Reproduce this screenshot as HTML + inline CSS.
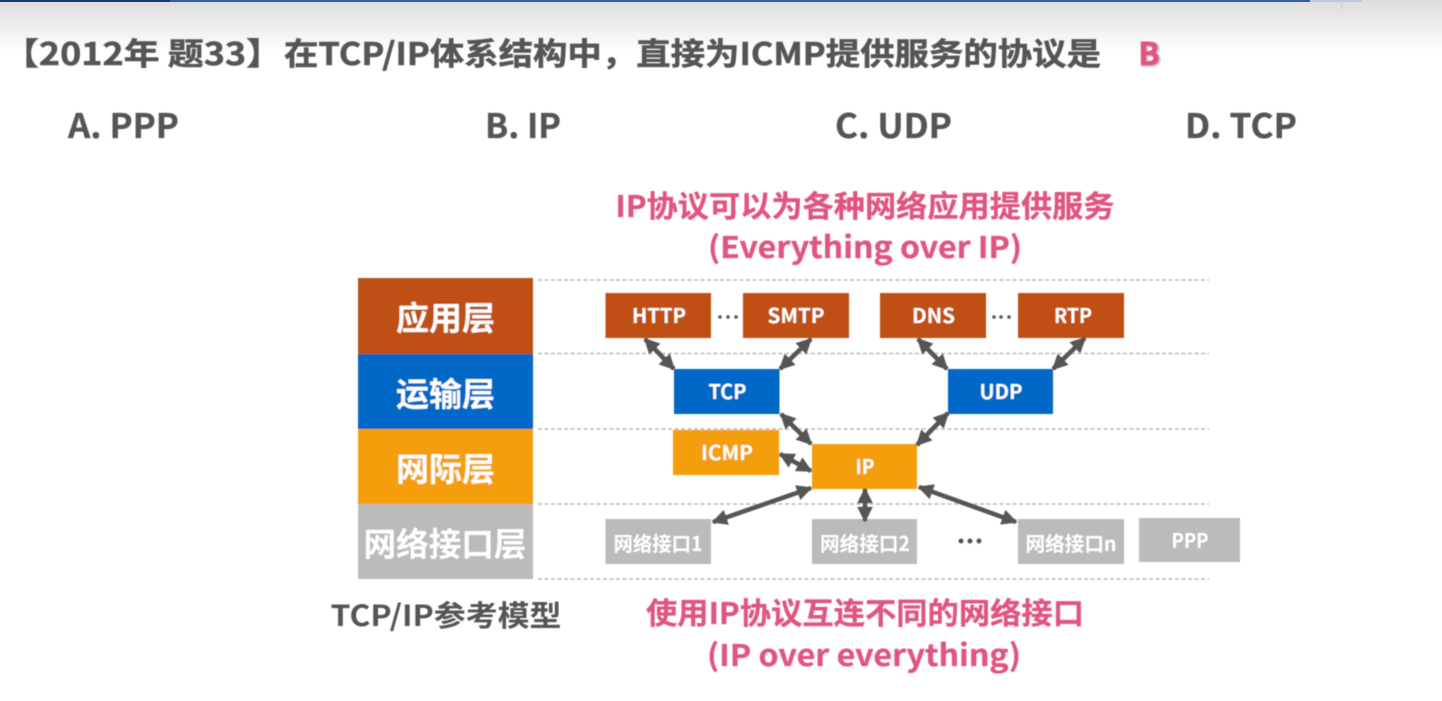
<!DOCTYPE html>
<html lang="zh"><head><meta charset="utf-8"><title>TCP/IP</title>
<style>
html,body{margin:0;padding:0;background:#fff;width:1442px;height:701px;overflow:hidden}
svg{display:block}
text{font-family:"Noto Sans CJK SC","Liberation Sans",sans-serif;font-weight:700}
.w{fill:#fff;text-anchor:middle}
.p{fill:#e0557f;text-anchor:middle;font-size:30px;stroke:#e0557f;stroke-width:.3}
.h{fill:#555;font-size:31px;stroke:#555;stroke-width:.5}
.o{fill:#555;font-size:34px;stroke:#555;stroke-width:.3}
.dash{stroke:#aaa;stroke-width:1.2;stroke-dasharray:4 2.5}
.ar{stroke:#555;stroke-width:4.6;fill:#555}
</style></head><body>
<svg width="1442" height="701" viewBox="0 0 1442 701" xmlns="http://www.w3.org/2000/svg">
<defs>
<linearGradient id="g" x1="0" y1="0" x2="0" y2="1"><stop offset="0" stop-color="#dcdcdc"/><stop offset="1" stop-color="#fff"/></linearGradient>
<marker id="a" viewBox="0 0 10 10" refX="9" refY="5" markerWidth="3.8" markerHeight="3.4" orient="auto-start-reverse"><path d="M0 0L10 5L0 10z" fill="#555"/></marker>
<filter id="b" x="-5%" y="-5%" width="110%" height="110%"><feGaussianBlur stdDeviation="0.55"/></filter>
</defs>
<rect x="0" y="0" width="1442" height="52" fill="url(#g)"/>
<rect x="0" y="0" width="1310" height="2" fill="#2f5fa8"/>
<rect x="0" y="0" width="170" height="2" fill="#123a6b"/>
<rect x="1310" y="0" width="52" height="2" fill="#b9c8da"/>
<rect x="1341" y="0" width="1" height="10" fill="#d0d0d0"/>
<g filter="url(#b)">
<text class="h" x="3" y="65" textLength="279" lengthAdjust="spacingAndGlyphs">【2012年 题33】</text>
<text class="h" x="284" y="65" textLength="817" lengthAdjust="spacingAndGlyphs">在TCP/IP体系结构中，直接为ICMP提供服务的协议是</text>
<text x="1150.500" y="66" text-anchor="middle" font-size="31" fill="#cfcfcf" stroke="#cfcfcf" stroke-width="2">B</text>
<text x="1149" y="65" text-anchor="middle" font-size="31" fill="#e0557f" stroke="#e0557f" stroke-width="1">B</text>
<text class="o" x="68" y="138" textLength="111" lengthAdjust="spacingAndGlyphs">A. PPP</text>
<text class="o" x="485" y="138" textLength="76" lengthAdjust="spacingAndGlyphs">B. IP</text>
<text class="o" x="835" y="138" textLength="117" lengthAdjust="spacingAndGlyphs">C. UDP</text>
<text class="o" x="1185" y="138" textLength="112" lengthAdjust="spacingAndGlyphs">D. TCP</text>
<text class="p" x="865" y="217" textLength="499" lengthAdjust="spacingAndGlyphs">IP协议可以为各种网络应用提供服务</text>
<text class="p" x="865" y="258" textLength="314" lengthAdjust="spacingAndGlyphs">(Everything over IP)</text>
<g class="dash">
<line x1="538" y1="280" x2="1209" y2="280"/><line x1="538" y1="353.5" x2="1209" y2="353.5"/><line x1="538" y1="429" x2="1209" y2="429"/><line x1="538" y1="504" x2="1209" y2="504"/><line x1="538" y1="579" x2="1209" y2="579"/>
</g>
<rect x="358" y="278" width="175" height="76" fill="#c05012"/>
<rect x="358" y="354" width="175" height="75" fill="#0468c6"/>
<rect x="358" y="429" width="175" height="75" fill="#f59e0f"/>
<rect x="358" y="504" width="175" height="75" fill="#bbb"/>
<g font-size="33">
<text class="w" x="445.500" y="330">应用层</text>
<text class="w" x="445.500" y="406">运输层</text>
<text class="w" x="445.500" y="481">网际层</text>
<text class="w" x="445" y="556" textLength="163" lengthAdjust="spacingAndGlyphs">网络接口层</text>
</g>
<g fill="#c05012">
<rect x="605.500" y="293" width="105.500" height="45"/><rect x="743" y="293" width="106" height="45"/><rect x="880" y="293" width="106" height="45"/><rect x="1018" y="293" width="106" height="45"/>
</g>
<g fill="#0468c6"><rect x="674" y="369" width="105.500" height="45"/><rect x="948" y="369" width="105" height="45"/></g>
<g fill="#f59e0f"><rect x="673" y="430" width="106" height="45"/><rect x="812" y="444" width="105" height="45"/></g>
<g fill="#bbb"><rect x="605.500" y="519" width="105.500" height="45"/><rect x="812" y="519" width="105" height="45"/><rect x="1018" y="519" width="106" height="45"/><rect x="1139" y="518" width="101" height="44"/></g>
<g font-size="20">
<text class="w" x="659" y="323" textLength="54" lengthAdjust="spacingAndGlyphs">HTTP</text><text class="w" x="796" y="323" textLength="57" lengthAdjust="spacingAndGlyphs">SMTP</text><text class="w" x="933.500" y="323" textLength="43" lengthAdjust="spacingAndGlyphs">DNS</text><text class="w" x="1073" y="323" textLength="38" lengthAdjust="spacingAndGlyphs">RTP</text>
<text class="w" x="727.500" y="399" textLength="38" lengthAdjust="spacingAndGlyphs">TCP</text><text class="w" x="1001" y="399" textLength="43" lengthAdjust="spacingAndGlyphs">UDP</text>
<text class="w" x="727" y="460" textLength="52" lengthAdjust="spacingAndGlyphs">ICMP</text><text class="w" x="865" y="474" textLength="19" lengthAdjust="spacingAndGlyphs">IP</text>
<text class="w" x="658" y="551" textLength="89" lengthAdjust="spacingAndGlyphs">网络接口1</text>
<text class="w" x="865" y="551" textLength="90" lengthAdjust="spacingAndGlyphs">网络接口2</text>
<text class="w" x="1071" y="551" textLength="91" lengthAdjust="spacingAndGlyphs">网络接口n</text>
<text class="w" x="1190" y="548" textLength="37" lengthAdjust="spacingAndGlyphs">PPP</text>
</g>
<g fill="#555">
<circle cx="720" cy="317" r="1.800"/><circle cx="728" cy="317" r="1.800"/><circle cx="736" cy="317" r="1.800"/>
<circle cx="994" cy="317" r="1.800"/><circle cx="1001" cy="317" r="1.800"/><circle cx="1009" cy="317" r="1.800"/>
<circle cx="961" cy="541" r="2.500"/><circle cx="970" cy="541" r="2.500"/><circle cx="979" cy="541" r="2.500"/>
</g>
<g class="ar">
<line x1="645" y1="339" x2="674" y2="369" marker-start="url(#a)" marker-end="url(#a)"/>
<line x1="811" y1="339" x2="780" y2="369" marker-start="url(#a)" marker-end="url(#a)"/>
<line x1="918" y1="339" x2="947" y2="369" marker-start="url(#a)" marker-end="url(#a)"/>
<line x1="1085" y1="338" x2="1053" y2="369" marker-start="url(#a)" marker-end="url(#a)"/>
<line x1="781" y1="414" x2="811" y2="444" marker-start="url(#a)" marker-end="url(#a)"/>
<line x1="948" y1="413" x2="917" y2="445" marker-start="url(#a)" marker-end="url(#a)"/>
<line x1="780" y1="454" x2="811" y2="471" marker-start="url(#a)" marker-end="url(#a)"/>
<line x1="811" y1="488" x2="713" y2="522" marker-start="url(#a)" marker-end="url(#a)"/>
<line x1="865" y1="489" x2="865" y2="521" marker-start="url(#a)" marker-end="url(#a)"/>
<line x1="919" y1="487" x2="1016" y2="522" marker-start="url(#a)" marker-end="url(#a)"/>
</g>
<text x="446" y="626" text-anchor="middle" font-size="29" fill="#555" textLength="231" lengthAdjust="spacingAndGlyphs">TCP/IP参考模型</text>
<text class="p" x="865" y="624" textLength="438" lengthAdjust="spacingAndGlyphs">使用IP协议互连不同的网络接口</text>
<text class="p" x="864" y="666" textLength="314" lengthAdjust="spacingAndGlyphs">(IP over everything)</text>
</g>
</svg>
</body></html>
